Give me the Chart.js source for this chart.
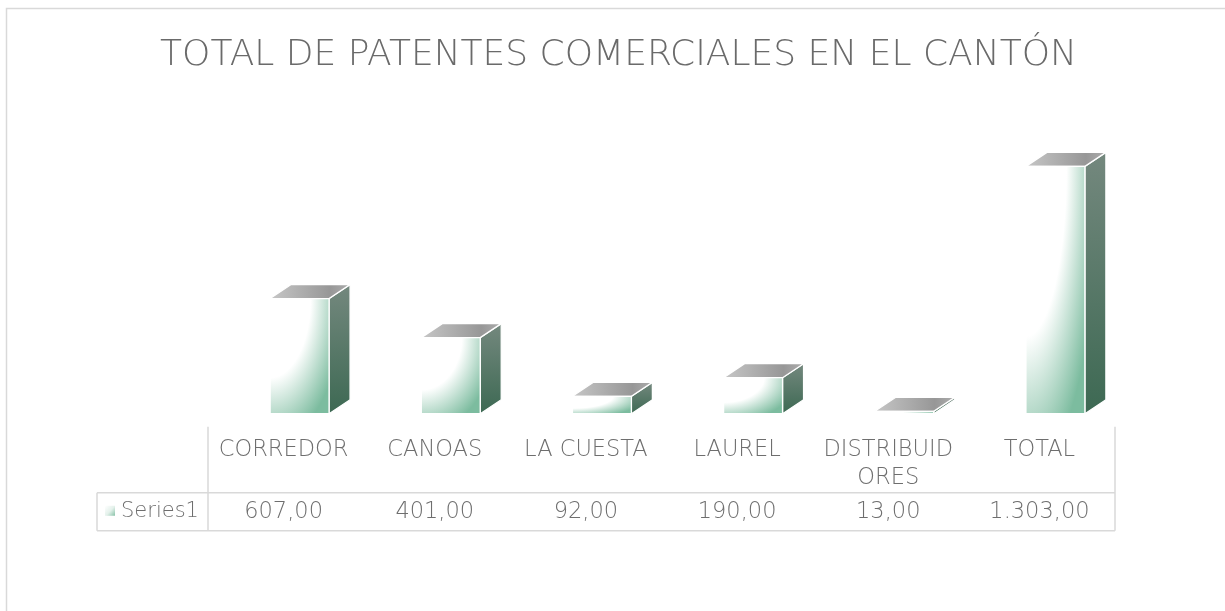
<!DOCTYPE html>
<html><head><meta charset="utf-8">
<script src="https://cdn.jsdelivr.net/npm/chart.js@4.4.1/dist/chart.umd.min.js"></script>
<style>html,body{margin:0;padding:0;background:#fff;overflow:hidden}#wrap{width:1225px;height:611px;position:relative}</style>
</head><body><div id="wrap"><canvas id="c"></canvas></div>
<script>
const titleText = 'TOTAL DE PATENTES COMERCIALES EN EL CANTÓN';
const categories = [['CORREDOR'], ['CANOAS'], ['LA CUESTA'], ['LAUREL'], ['DISTRIBUID', 'ORES'], ['TOTAL']];
const seriesName = 'Series1';
const values = [607, 401, 92, 190, 13, 1303];
const yMax = 1400;

const FONT = 'DejaVu Sans';
const TEXT = '#6e6e6e';
const LINE = '#d9d9d9';

function fmt(v) {
  const p = v.toFixed(2).split('.');
  p[0] = p[0].replace(/\B(?=(\d{3})+(?!\d))/g, '.');
  return p[0] + ',' + p[1];
}

const frame = {
  id: 'frame',
  beforeDraw(chart) {
    const c = chart.ctx;
    c.save();
    c.fillStyle = '#fff';
    c.fillRect(0, 0, chart.width, chart.height);
    c.strokeStyle = LINE; c.lineWidth = 1.5;
    c.strokeRect(6.5, 8.5, 1400, 800);
    c.restore();
  }
};

const bars3d = {
  id: 'bars3d',
  beforeDatasetDraw(chart, args) {
    const c = chart.ctx;
    const meta = args.meta;
    const SHIFT = 16, DX = 21, DY = -14;
    c.save();
    meta.data.forEach(el => {
      const p = el.getProps(['x', 'y', 'base', 'width'], true);
      const x0 = p.x - p.width / 2 + SHIFT, x1 = x0 + p.width;
      const yt = p.y, yb = p.base, h = Math.max(yb - yt, 0.5);
      // side face
      let g = c.createLinearGradient(0, yt + DY, 0, yb);
      g.addColorStop(0, '#74887e');
      g.addColorStop(1, '#3d6953');
      c.beginPath();
      c.moveTo(x1, yt); c.lineTo(x1 + DX, yt + DY); c.lineTo(x1 + DX, yb + DY); c.lineTo(x1, yb); c.closePath();
      c.fillStyle = g; c.fill();
      c.strokeStyle = '#fff'; c.lineWidth = 1.3; c.stroke();
      // top face
      g = c.createLinearGradient(x0, 0, x1 + DX, 0);
      g.addColorStop(0, '#c6c6c6');
      g.addColorStop(0.75, '#979797');
      g.addColorStop(1, '#adadad');
      c.beginPath();
      c.moveTo(x0, yt); c.lineTo(x0 + DX, yt + DY); c.lineTo(x1 + DX, yt + DY); c.lineTo(x1, yt); c.closePath();
      c.fillStyle = g; c.fill();
      c.stroke();
      // front face (elliptical radial gradient from top-left)
      c.save();
      c.beginPath(); c.rect(x0, yt, p.width, h); c.clip();
      c.translate(x0, yt); c.scale(p.width, h);
      const rg = c.createRadialGradient(0, 0, 0, 0, 0, 1.25);
      rg.addColorStop(0, '#ffffff');
      rg.addColorStop(0.55, '#ffffff');
      rg.addColorStop(1, '#7cbc9f');
      c.fillStyle = rg;
      c.fillRect(0, 0, 1, 1);
      c.restore();
      c.beginPath(); c.rect(x0, yt, p.width, h);
      c.strokeStyle = '#fff'; c.lineWidth = 1.3; c.stroke();
    });
    c.restore();
    return false;
  }
};

const dataTable = {
  id: 'dataTable',
  afterDraw(chart) {
    const c = chart.ctx, a = chart.chartArea, xs = chart.scales.x;
    const top = a.bottom + 13, r0 = a.bottom + 79, r1 = a.bottom + 117, keyL = 97;
    c.save();
    c.strokeStyle = LINE; c.lineWidth = 1.5;
    c.beginPath();
    c.moveTo(a.left, top); c.lineTo(a.left, r1);
    c.moveTo(a.right, top); c.lineTo(a.right, r1);
    c.moveTo(keyL, r0); c.lineTo(a.right, r0);
    c.moveTo(keyL, r1); c.lineTo(a.right, r1);
    c.moveTo(keyL, r0); c.lineTo(keyL, r1);
    c.stroke();
    const ym = (r0 + r1) / 2;
    c.fillStyle = TEXT;
    c.font = '200 22.5px "' + FONT + '"';
    c.textAlign = 'center'; c.textBaseline = 'middle';
    values.forEach((v, i) => c.fillText(fmt(v), xs.getPixelForValue(i), ym));
    c.font = '200 21px "' + FONT + '"';
    c.textAlign = 'left';
    c.fillText(seriesName, 121, ym);
    // legend key
    const ky = ym - 6;
    const g = c.createLinearGradient(105, ky, 116, ky + 10);
    g.addColorStop(0, '#ffffff'); g.addColorStop(0.5, '#e4f1eb'); g.addColorStop(1, '#7cbc9f');
    c.fillStyle = g;
    c.fillRect(105, ky, 10, 10);
    c.restore();
  }
};

new Chart(document.getElementById('c'), {
  type: 'bar',
  data: {
    labels: categories,
    datasets: [{ label: seriesName, data: values, backgroundColor: '#7cbc9f', barPercentage: 0.39, categoryPercentage: 1 }]
  },
  options: {
    responsive: true, maintainAspectRatio: false, animation: false, devicePixelRatio: 1,
    layout: { padding: { left: 122, right: 110, top: 0, bottom: 97 } },
    plugins: {
      legend: { display: false },
      tooltip: { enabled: false },
      title: {
        display: true, text: titleText, color: '#6a6a6a',
        font: { family: FONT, size: 36, weight: 200, lineHeight: 1.2 },
        padding: { top: 34.4, bottom: 70.4 }
      }
    },
    scales: {
      x: {
        offset: true,
        grid: { display: false, drawTicks: false },
        border: { display: false },
        ticks: { color: TEXT, font: { family: FONT, size: 22.5, weight: 200, lineHeight: 1.25 }, padding: 22, maxRotation: 0, autoSkip: false }
      },
      y: {
        min: 0, max: yMax,
        grid: { display: false, drawTicks: false },
        border: { display: false },
        ticks: { display: false },
        afterFit(s) { s.width = 86; }
      }
    }
  },
  plugins: [frame, bars3d, dataTable]
});
</script>
</body></html>
